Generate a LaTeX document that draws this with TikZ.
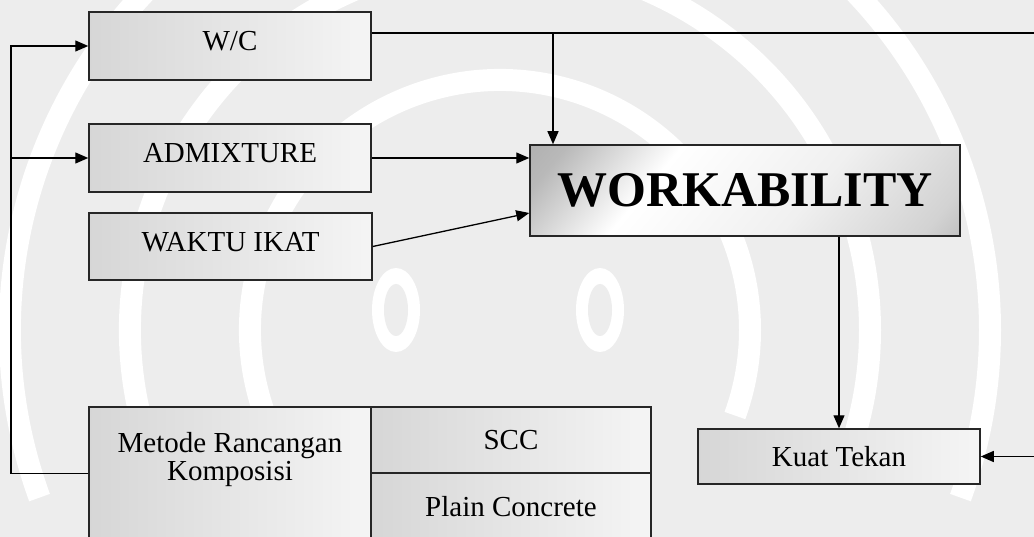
\documentclass[tikz,border=0pt]{standalone}
\usepackage{fontspec}
\setmainfont{Liberation Serif}
\usetikzlibrary{arrows.meta}

% 金属质感的渐变
\pgfdeclarehorizontalshading{metal}{100bp}{color(0bp)=(gray!80); color(20bp)=(gray!55); color(36bp)=(white); color(60bp)=(gray!12); color(80bp)=(gray!35); color(100bp)=(gray!85)}

\tikzset{
  cell/.style={draw=black!85, line width=1.5pt, left color=gray!32, right color=gray!8,
    minimum width=282pt, minimum height=68pt, inner sep=0pt, font=\fontsize{29}{33}\selectfont},
  lifted/.style={text height=19pt, text depth=9pt},
  bigcell/.style={draw=black!85, line width=1.5pt, shading=metal, shading angle=-40,
    minimum width=430pt, minimum height=91pt, inner sep=0pt, font=\fontsize{50}{56}\selectfont\bfseries},
  link/.style={line width=1.3pt},
}

\begin{document}
\begin{tikzpicture}[x=1pt, y=-1pt, >={Triangle[length=13pt,width=11pt]}]
    % 1. 画布与浅色底纹
    \useasboundingbox (0,0) rectangle (1034,537);
    \clip (0,0) rectangle (1034,537);
    \fill[gray!14] (0,0) rectangle (1034,537);
    \foreach \r in {250,370,490}
        \draw[white, line width=22pt] (500,330) ++(160:\r) arc[start angle=160, end angle=380, radius=\r];
    \fill[gray!14] (495,335) ellipse[x radius=205, y radius=80];
    \fill[white] (396,310) ellipse[x radius=24, y radius=42] (600,310) ellipse[x radius=24, y radius=42];
    \fill[gray!14] (396,310) ellipse[x radius=12, y radius=26] (600,310) ellipse[x radius=12, y radius=26];

    % 2. 左侧三个因素
    \node[cell, lifted] (wc) at (230,46) {W/C};
    \node[cell, lifted] (adm) at (230,158) {ADMIXTURE};
    \node[cell, lifted, minimum width=283pt, minimum height=67pt] (waktu) at (230.5,246.5) {WAKTU IKAT};

    % 3. 中间与右下
    \node[bigcell] (work) at (745,190.5) {WORKABILITY};
    \node[cell, minimum height=55pt] (kuat) at (839,456.5) {Kuat Tekan};

    % 4. 底部的配合比方法
    \node[cell, minimum height=133pt,
        label={[font=\fontsize{29}{28}\selectfont, align=center, anchor=north, inner sep=0pt, yshift=-26pt]north:Metode Rancangan\\Komposisi}]
        (metode) at (230,473.5) {};
    \node[cell, minimum width=280pt, minimum height=66pt] (scc) at (511,440) {SCC};
    \node[cell, minimum width=280pt, minimum height=67pt] (plain) at (511,506.5) {Plain Concrete};

    % 5. 连线
    \coordinate (rail) at (11,0);
    \coordinate (tap) at (553,33);
    \draw[link, ->] (metode.west) -| (rail |- wc.west) -- (wc.west);
    \draw[link, ->] (rail |- adm.west) -- (adm.west);
    \draw[link, ->] ([yshift=13pt]wc.east) -- (1050,33) |- (kuat.east);
    \draw[link, ->] (tap) -- (tap |- work.north);
    \draw[link, ->] (adm.east) -- (work.west |- adm.east);
    \draw[link, ->] (waktu.east) -- ([yshift=-22.5pt]work.west);
    \draw[link, ->] (kuat.north |- work.south) -- (kuat.north);
\end{tikzpicture}
\end{document}
